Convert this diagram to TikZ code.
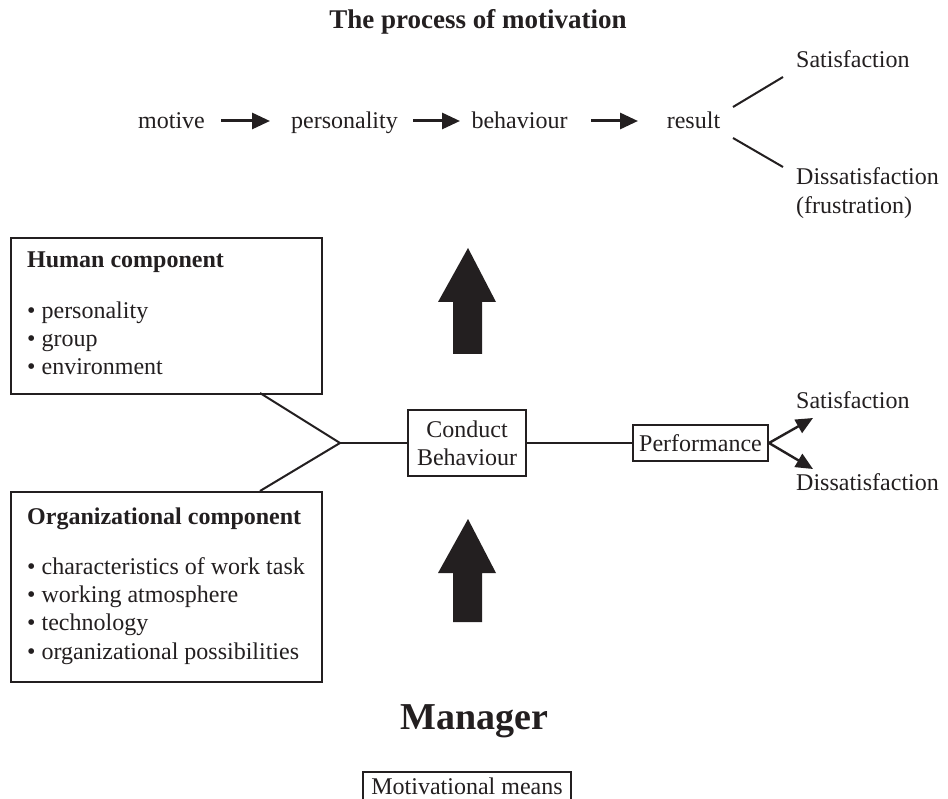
\documentclass[tikz,border=0pt]{standalone}
\usepackage{fontspec}
\setmainfont{Liberation Serif}
\usetikzlibrary{arrows.meta}
\definecolor{ink}{HTML}{231F20}
\begin{document}
\begin{tikzpicture}[x=1pt,y=-1pt,
  every node/.style={text=ink,inner sep=0pt,font=\fontsize{24}{28}\selectfont},
  lbl/.style={anchor=base},
  lbll/.style={anchor=base west},
  frame/.style={draw=ink,line width=2pt},
  link/.style={draw=ink,line width=2pt},
  flow/.style={draw=ink,line width=3pt,-{Triangle[length=18pt,width=16pt]}},
  fork/.style={draw=ink,line width=2.4pt,-{Triangle[length=17pt,width=15pt]}},
  bigarrow/.style={fill=ink,draw=none}]
\clip (0,0) rectangle (948,799);
\fill[white] (0,0) rectangle (948,799);

% title
\node[lbl,font=\fontsize{27}{32}\selectfont\bfseries] (title) at (478,29) {The process of motivation};

% motivation chain
\node[lbl] (motive) at (171.5,129) {motive};
\node[lbl] (pers) at (344.5,129) {personality};
\node[lbl] (behav) at (519.5,129) {behaviour};
\node[lbl] (result) at (693.5,129) {result};
\coordinate (a1s) at (221,121); \coordinate (a1e) at (270,121);
\coordinate (a2s) at (413,121); \coordinate (a2e) at (460,121);
\coordinate (a3s) at (591,121); \coordinate (a3e) at (638,121);
\draw[flow] (a1s) -- (a1e);
\draw[flow] (a2s) -- (a2e);
\draw[flow] (a3s) -- (a3e);
\node[lbll] (sat1) at (796,68) {Satisfaction};
\node[lbll] (dis1) at (796,185) {Dissatisfaction};
\node[lbll] (frus) at (796,214) {(frustration)};
\coordinate (r1a) at (733,107); \coordinate (r1b) at (783,77);
\coordinate (r2a) at (733,138); \coordinate (r2b) at (783,167);
\draw[link] (r1a) -- (r1b);
\draw[link] (r2a) -- (r2b);

% human component
\node[frame,minimum width=311pt,minimum height=156pt,anchor=north west] (human) at (10,237) {};
\node[lbll,font=\fontsize{24}{28}\selectfont\bfseries] (hhead) at (27,268) {Human component};
\node[lbll] (h1) at (27,319) {\textbullet\ personality};
\node[lbll] (h2) at (27,347) {\textbullet\ group};
\node[lbll] (h3) at (27,375) {\textbullet\ environment};

% organizational component
\node[frame,minimum width=311pt,minimum height=190pt,anchor=north west] (org) at (10,491) {};
\node[lbll,font=\fontsize{24}{28}\selectfont\bfseries] (ohead) at (27,524) {Organizational component};
\node[lbll] (o1) at (27,574) {\textbullet\ characteristics of work task};
\node[lbll] (o2) at (27,602) {\textbullet\ working atmosphere};
\node[lbll] (o3) at (27,630) {\textbullet\ technology};
\node[lbll] (o4) at (27,659) {\textbullet\ organizational possibilities};

% merge into conduct
\coordinate (apex) at (340,443);
\coordinate (hfoot) at (260,393);
\coordinate (ofoot) at (260,491);
\draw[link] (hfoot) -- (apex) -- (ofoot);
\node[frame,minimum width=118pt,minimum height=66pt,align=center,
  font=\fontsize{24}{28}\selectfont] (conduct) at (467,443) {Conduct\\Behaviour};
\draw[link] (apex) -- (conduct.west);
\node[frame,minimum width=135pt,minimum height=35pt] (perf) at (700.5,443) {Performance};
\draw[link] (conduct.east) -- (perf.west);
\coordinate (fs) at (813,418); \coordinate (fd) at (813,469);
\draw[fork] (perf.east) -- (fs);
\draw[fork] (perf.east) -- (fd);
\node[lbll] (sat2) at (796,409) {Satisfaction};
\node[lbll] (dis2) at (796,490) {Dissatisfaction};

% block arrows
\fill[bigarrow] (468,248) -- (496,302) -- (482,302) -- (482,354) -- (453,354) -- (453,302) -- (438,302) -- cycle;
\fill[bigarrow] (468,519) -- (496,573) -- (482,573) -- (482,622) -- (453,622) -- (453,573) -- (438,573) -- cycle;

% manager
\node[lbl,font=\fontsize{38}{44}\selectfont\bfseries] (manager) at (474,729) {Manager};
\node[lbl] (means) at (467,794) {Motivational means};
\node[frame,minimum width=208pt,minimum height=50pt,anchor=north] (meansbox) at (467,771) {};
\end{tikzpicture}
\end{document}
